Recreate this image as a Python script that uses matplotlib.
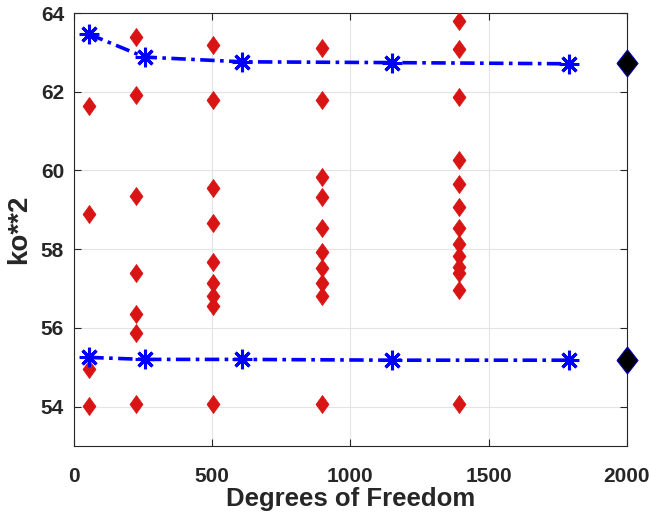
import numpy as np
import matplotlib
matplotlib.use('Agg')
from matplotlib import pyplot as plt

# red scatter columns (degrees of freedom, ko**2)
dof_cols = [56, 224, 504, 896, 1392]
ko_cols = [
    [61.63, 58.89, 54.95, 54.02],
    [63.40, 61.91, 59.36, 57.40, 56.36, 55.87, 54.07],
    [63.19, 61.80, 59.55, 58.66, 57.68, 57.15, 56.80, 56.55, 54.07],
    [63.11, 61.80, 59.83, 59.32, 58.55, 57.94, 57.51, 57.15, 56.80, 54.07],
    [63.79, 63.08, 61.86, 60.27, 59.66, 59.06, 58.55, 58.13, 57.83, 57.55, 57.40, 56.97, 54.07],
]

# blue convergence lines
dof_line = [56, 256, 608, 1152, 1792]
ko_upper = [63.46, 62.88, 62.76, 62.74, 62.71]
ko_lower = [55.25, 55.20, 55.20, 55.18, 55.18]

# reference values
dof_ref = [2000, 2000]
ko_ref = [62.73, 55.18]

plt.rcParams['font.family'] = ['Liberation Sans', 'DejaVu Sans']
plt.rcParams['font.weight'] = 'bold'

# MATLAB-like diamond (wider than matplotlib's thin 'd')
red_diamond = [(-0.72, 0), (0, 1), (0.72, 0), (0, -1), (-0.72, 0)]
big_diamond = [(-0.78, 0), (0, 1), (0.78, 0), (0, -1), (-0.78, 0)]

fig = plt.figure(figsize = (6.5, 5.14), dpi = 100)
ax = fig.add_axes([0.1135, 0.1323, 0.851, 0.8424])

for x, ys in zip(dof_cols, ko_cols):
    ax.plot([x] * len(ys), ys, linestyle = 'none', marker = red_diamond, markersize = 13,
            color = '#d81414', markeredgewidth = 0.5, zorder = 3)

for ys in (ko_upper, ko_lower):
    ax.plot(dof_line, ys, linestyle = (0, (4, 1.5, 1, 1.5)), color = '#0000ff', linewidth = 2.6,
            marker = (8, 2, 0), markersize = 14, markeredgewidth = 2.2, zorder = 4)

ax.plot(dof_ref, ko_ref, linestyle = 'none', marker = big_diamond, markersize = 19.5,
        color = 'black', markeredgecolor = '#0000cc', markeredgewidth = 0.7, zorder = 5,
        clip_on = False)

ax.set_xlim(0, 2000)
ax.set_ylim(53, 64)
ax.set_xticks([0, 500, 1000, 1500, 2000])
ax.set_yticks([54, 56, 58, 60, 62, 64])
ax.grid(True, color = '#e3e3e3', linewidth = 0.8)
ax.set_axisbelow(True)
ax.tick_params(direction = 'in', top = True, right = True, labelsize = 15,
               colors = '#262626', length = 5, width = 0.8)
ax.tick_params(axis = 'x', pad = 15)
ax.tick_params(axis = 'y', pad = 7)
for s in ax.spines.values():
    s.set_color('#262626')
    s.set_linewidth(0.8)
for lab in ax.get_xticklabels() + ax.get_yticklabels():
    lab.set_fontweight('bold')

ax.set_xlabel('Degrees of Freedom', fontsize = 18.5, fontweight = 'bold', color = '#262626', labelpad = 1)
ax.set_ylabel('ko**2', fontsize = 20, fontweight = 'bold', color = '#262626', labelpad = 6)

fig.savefig('out.png', dpi = 100)
